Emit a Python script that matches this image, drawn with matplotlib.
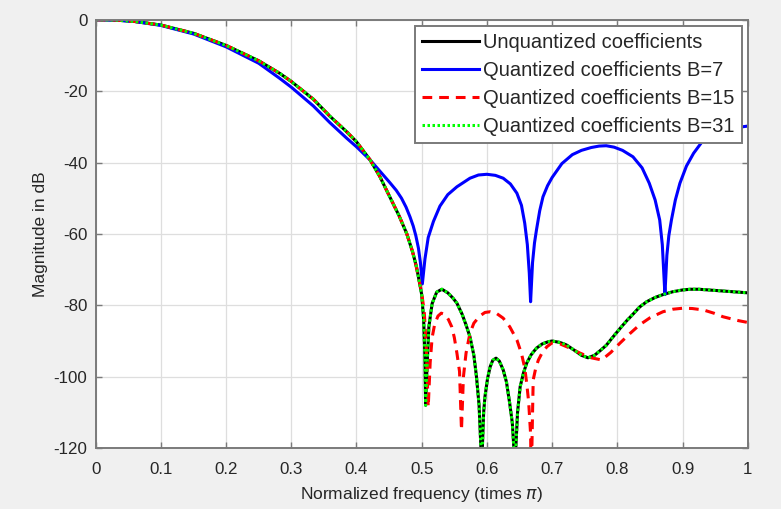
import matplotlib
matplotlib.use("Agg")
import matplotlib.pyplot as plt

plt.rcParams["font.family"] = ["Liberation Sans", "DejaVu Sans"]
plt.rcParams["axes.unicode_minus"] = False
plt.rcParams["lines.scale_dashes"] = False

# %% values (frequency in units of pi, magnitude in dB)
unq_x = [0.000, 0.030, 0.060, 0.100, 0.150, 0.200, 0.250, 0.282, 0.300, 0.334,
         0.359, 0.385, 0.400, 0.421, 0.436, 0.451, 0.465, 0.477, 0.486, 0.492,
         0.497, 0.500, 0.503, 0.505, 0.506, 0.508, 0.511, 0.516, 0.523, 0.531,
         0.540, 0.548, 0.554, 0.562, 0.568, 0.574, 0.580, 0.584, 0.588, 0.592,
         0.595, 0.597, 0.601, 0.605, 0.609, 0.614, 0.619, 0.625, 0.630, 0.635,
         0.639, 0.643, 0.647, 0.651, 0.656, 0.661, 0.668, 0.676, 0.685, 0.694,
         0.700, 0.712, 0.722, 0.735, 0.745, 0.755, 0.765, 0.775, 0.783, 0.795,
         0.805, 0.814, 0.825, 0.834, 0.845, 0.858, 0.870, 0.885, 0.900, 0.912,
         0.925, 0.940, 0.955, 0.970, 0.985, 1.000]
unq_db = [0.0, -0.1, -0.5, -1.5, -3.8, -7.2, -11.5, -15.0, -17.3, -22.3,
          -27.0, -31.4, -34.2, -39.3, -44.0, -49.6, -54.8, -59.9, -65.0, -69.2,
          -74.0, -77.0, -84.0, -95.0, -108.0, -98.0, -86.0, -79.5, -76.3, -75.5,
          -76.5, -78.0, -79.4, -82.5, -85.5, -88.8, -94.0, -100.0, -108.0, -125.0,
          -110.0, -105.6, -100.5, -97.2, -95.4, -94.8, -95.6, -98.1, -101.5, -107.5,
          -113.0, -125.0, -110.0, -102.8, -99.0, -96.2, -93.8, -92.0, -90.8, -90.2,
          -90.0, -90.4, -91.1, -92.7, -94.0, -94.7, -94.0, -92.5, -91.2, -88.5,
          -86.3, -84.4, -82.3, -80.5, -79.0, -77.8, -77.0, -76.2, -75.7, -75.5,
          -75.5, -75.7, -75.9, -76.1, -76.3, -76.5]

b7_x = [0.000, 0.030, 0.060, 0.100, 0.150, 0.200, 0.250, 0.282, 0.300, 0.334,
        0.359, 0.385, 0.400, 0.421, 0.441, 0.451, 0.461, 0.469, 0.476, 0.482,
        0.487, 0.491, 0.495, 0.498, 0.501, 0.505, 0.510, 0.518, 0.528, 0.540,
        0.554, 0.574, 0.587, 0.600, 0.613, 0.625, 0.636, 0.646, 0.653, 0.658,
        0.662, 0.665, 0.667, 0.670, 0.673, 0.676, 0.681, 0.686, 0.693, 0.700,
        0.715, 0.731, 0.745, 0.760, 0.772, 0.783, 0.795, 0.808, 0.824, 0.838,
        0.849, 0.858, 0.865, 0.869, 0.871, 0.873, 0.876, 0.879, 0.883, 0.889,
        0.896, 0.906, 0.917, 0.932, 0.950, 0.975, 1.000]
b7_db = [0.0, -0.1, -0.5, -1.6, -4.0, -7.6, -12.2, -16.4, -18.9, -24.2,
         -28.8, -33.2, -35.6, -39.3, -43.5, -45.6, -47.8, -50.0, -52.5, -55.2,
         -57.8, -60.5, -64.0, -68.0, -74.0, -67.0, -61.0, -56.5, -52.2, -49.0,
         -46.8, -44.4, -43.5, -43.3, -43.6, -44.4, -46.0, -48.6, -52.0, -57.0,
         -63.0, -71.0, -79.0, -68.0, -62.5, -58.9, -53.5, -49.6, -46.5, -44.2,
         -40.3, -37.8, -36.6, -35.8, -35.4, -35.3, -35.7, -36.6, -38.4, -41.5,
         -45.8, -50.5, -56.1, -63.0, -70.0, -77.0, -66.0, -60.5, -56.1, -50.5,
         -45.8, -41.0, -37.4, -33.7, -31.6, -30.4, -29.8]

b15_x = [0.000, 0.030, 0.060, 0.100, 0.150, 0.200, 0.250, 0.282, 0.300, 0.334,
         0.359, 0.385, 0.400, 0.421, 0.436, 0.451, 0.465, 0.477, 0.486, 0.492,
         0.497, 0.500, 0.504, 0.507, 0.510, 0.513, 0.516, 0.520, 0.525, 0.530,
         0.536, 0.541, 0.546, 0.550, 0.554, 0.558, 0.561, 0.564, 0.568, 0.574,
         0.580, 0.589, 0.597, 0.605, 0.615, 0.625, 0.635, 0.646, 0.653, 0.658,
         0.661, 0.664, 0.667, 0.668, 0.670, 0.671, 0.675, 0.679, 0.685, 0.692,
         0.700, 0.712, 0.725, 0.743, 0.760, 0.776, 0.790, 0.804, 0.820, 0.834,
         0.850, 0.870, 0.885, 0.901, 0.915, 0.932, 0.948, 0.962, 0.975, 0.986,
         1.000]
b15_db = [0.0, -0.1, -0.5, -1.5, -3.8, -7.2, -11.5, -15.0, -17.3, -22.3,
          -27.0, -31.4, -34.2, -39.3, -44.0, -49.6, -54.8, -59.9, -65.0, -69.5,
          -73.8, -76.5, -82.0, -92.0, -108.5, -96.0, -89.0, -85.2, -83.0, -82.2,
          -82.6, -84.0, -86.0, -89.0, -93.4, -98.5, -115.0, -100.0, -93.4, -87.8,
          -85.0, -83.0, -82.0, -81.8, -82.3, -83.6, -86.0, -89.7, -93.5, -97.5,
          -101.8, -107.0, -116.0, -130.0, -110.0, -100.9, -97.5, -95.3, -93.2, -91.6,
          -90.5, -90.8, -91.8, -93.4, -94.7, -95.3, -93.2, -90.6, -87.8, -85.5,
          -83.5, -81.8, -81.1, -80.8, -80.9, -81.3, -82.2, -83.2, -83.8, -84.3,
          -84.8]

# B=31 sits on top of the unquantized response everywhere
b31_x = list(unq_x)
b31_db = list(unq_db)

labels = ["Unquantized coefficients", "Quantized coefficients B=7",
          "Quantized coefficients B=15", "Quantized coefficients B=31"]
xticks = [0, 0.1, 0.2, 0.3, 0.4, 0.5, 0.6, 0.7, 0.8, 0.9, 1]
xticklabels = ["0", "0.1", "0.2", "0.3", "0.4", "0.5", "0.6", "0.7", "0.8", "0.9", "1"]
yticks = [-120, -100, -80, -60, -40, -20, 0]

# %% plotting
fig = plt.figure(figsize=(7.81, 5.09), dpi=100, facecolor="#f0f0f0")
ax = fig.add_axes([0.1225, 0.1196, 0.8349, 0.8417])

ax.plot(unq_x, unq_db, color="black", lw=2.2, label=labels[0])
ax.plot(b7_x, b7_db, color="#0000ff", lw=2.2, label=labels[1])
ax.plot(b15_x, b15_db, color="#ff0000", lw=2.2, dashes=(7, 5), label=labels[2])
ax.plot(b31_x, b31_db, color="#00ff00", lw=2.2, dashes=(1.8, 1.8), label=labels[3])

ax.set_xlim(0, 1)
ax.set_ylim(-120, 0)
ax.set_xticks(xticks)
ax.set_xticklabels(xticklabels)
ax.set_yticks(yticks)
ax.grid(True, color="#dedede", lw=0.9)
ax.set_axisbelow(True)
ax.tick_params(direction="in", length=4.5, width=1, colors="#7a7a7a",
               labelcolor="#262626", labelsize=12.2, top=True, right=True)
ax.tick_params(axis="x", pad=10)
ax.tick_params(axis="y", pad=6)
for sp in ax.spines.values():
    sp.set_color("#7a7a7a")
    sp.set_linewidth(1.4)

ax.set_xlabel("Normalized frequency (times $\\pi$)", fontsize=12.5, color="#262626", labelpad=6)
ax.set_ylabel("Magnitude in dB", fontsize=12.5, color="#262626", labelpad=4)

leg = ax.legend(loc="upper right", bbox_to_anchor=(0.991, 0.985), borderaxespad=0,
                fontsize=14.5, fancybox=False, framealpha=1, edgecolor="#7a7a7a",
                handlelength=2.85, handletextpad=0.2, labelspacing=0.45, borderpad=0.35)
leg.get_frame().set_linewidth(1.4)
for t in leg.get_texts():
    t.set_color("#262626")

fig.savefig("out.png", dpi=100, facecolor=fig.get_facecolor())
